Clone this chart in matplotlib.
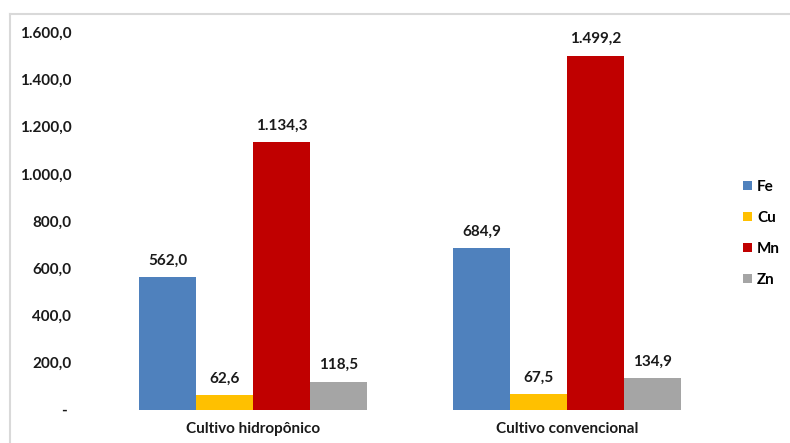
import matplotlib
matplotlib.use("Agg")
import matplotlib.pyplot as plt
from matplotlib.patches import Patch
from matplotlib.lines import Line2D
import numpy as np

categories = ["Cultivo hidropônico", "Cultivo convencional"]
series_names = ["Fe", "Cu", "Mn", "Zn"]
values = {
    "Fe": [562.0, 684.9],
    "Cu": [62.6, 67.5],
    "Mn": [1134.3, 1499.2],
    "Zn": [118.5, 134.9],
}
colors = {"Fe": "#4F81BD", "Cu": "#FFC000", "Mn": "#C00000", "Zn": "#A5A5A5"}
y_ticks = [0, 200, 400, 600, 800, 1000, 1200, 1400, 1600]

plt.rcParams["font.family"] = ["Lato", "DejaVu Sans"]
plt.rcParams["font.weight"] = "bold"


def br_number(v):
    s = f"{v:,.1f}"
    return s.replace(",", "X").replace(".", ",").replace("X", ".")


fig = plt.figure(figsize=(7.9, 4.43), dpi=100)
ax = fig.add_axes([0.122, 0.0745, 0.795, 0.853])

# light frame around the chart area (top and left edges visible)
fig.add_artist(Line2D([9.5 / 790, 1.0], [1 - 13.5 / 443, 1 - 13.5 / 443],
                      transform=fig.transFigure, color="#D9D9D9", lw=1.5))
fig.add_artist(Line2D([9.5 / 790, 9.5 / 790], [0.0, 1 - 13.5 / 443],
                      transform=fig.transFigure, color="#D9D9D9", lw=1.5))

x = np.arange(len(categories))
w = 0.1815
offsets = np.array([-1.5, -0.5, 0.5, 1.5]) * w
for name, off in zip(series_names, offsets):
    bars = ax.bar(x + off, values[name], width=w, color=colors[name], label=name)
    for b, v in zip(bars, values[name]):
        ax.annotate(br_number(v), (b.get_x() + b.get_width() / 2, v),
                    xytext=(0, 7), textcoords="offset points",
                    ha="center", va="bottom", fontsize=11,
                    fontweight="bold", color="#1a1a1a")

ax.set_xlim(-0.5, 1.5)
ax.set_ylim(0, 1600)
ax.set_yticks(y_ticks)
ax.set_yticklabels(["- " if t == 0 else br_number(t) for t in y_ticks])
ax.set_xticks(x)
ax.set_xticklabels(categories)
ax.tick_params(axis="both", length=0, labelsize=11, colors="#1a1a1a")
ax.tick_params(axis="y", pad=18)
ax.tick_params(axis="x", pad=9)
for sp in ax.spines.values():
    sp.set_visible(False)

handles = [Patch(facecolor=colors[n], label=n) for n in series_names]
fig.legend(handles=handles, loc="center left", bbox_to_anchor=(0.933, 0.473),
           frameon=False, fontsize=11, handlelength=0.55, handleheight=0.55,
           handletextpad=0.35, labelspacing=1.1, borderaxespad=0)

fig.savefig("out.png", dpi=100)
